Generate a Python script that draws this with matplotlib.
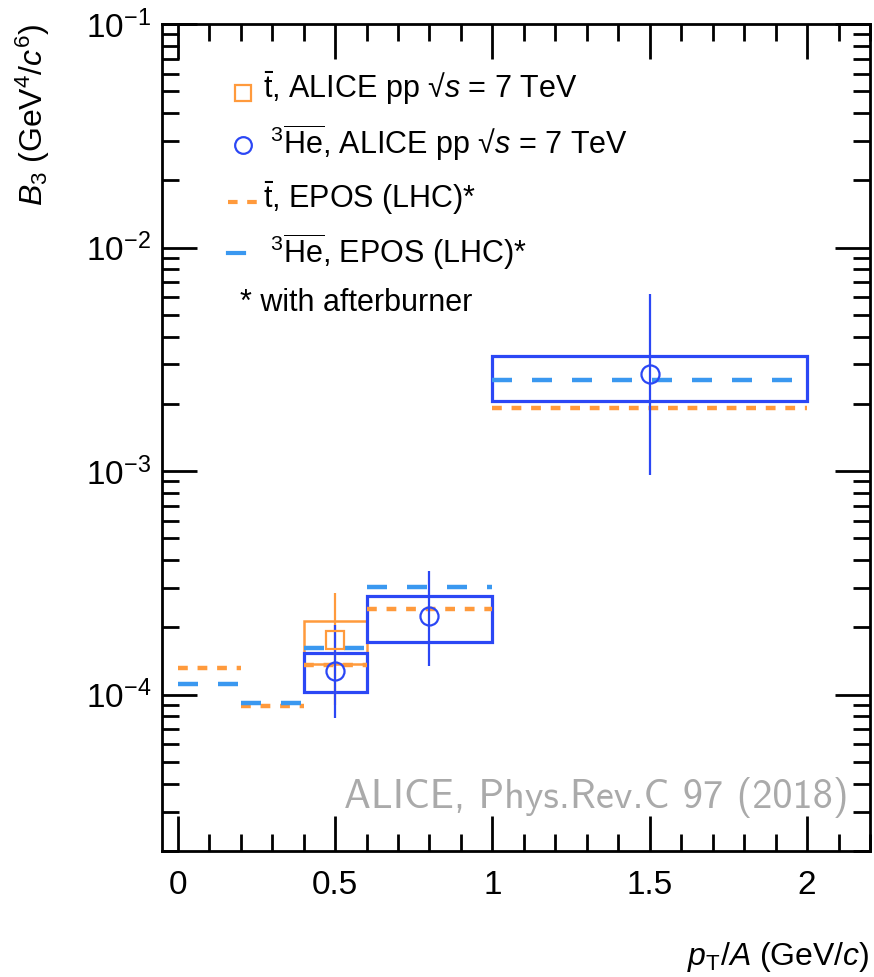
import matplotlib
matplotlib.use("Agg")
import matplotlib.pyplot as plt
from matplotlib.patches import Rectangle
from matplotlib.ticker import MultipleLocator

plt.rcParams['font.family'] = ['Liberation Sans', 'DejaVu Sans']
plt.rcParams['mathtext.fontset'] = 'custom'
plt.rcParams['mathtext.rm'] = 'Liberation Sans'
plt.rcParams['mathtext.it'] = 'Liberation Sans:italic'
plt.rcParams['mathtext.bf'] = 'Liberation Sans:bold'

ORANGE = '#ff9a3c'
BLUE = '#2b47f5'
LBLUE = '#3a98f0'

# anti-triton, ALICE pp 7 TeV
t_x = [0.5]
t_y = [1.76e-4]
t_err_lo = [9.0e-5]
t_err_hi = [2.85e-4]
t_sys_lo = [1.37e-4]
t_sys_hi = [2.14e-4]
t_bin_lo = [0.4]
t_bin_hi = [0.6]

# anti-3He, ALICE pp 7 TeV
he_x = [0.5, 0.8, 1.5]
he_y = [1.28e-4, 2.25e-4, 2.71e-3]
he_err_lo = [7.85e-5, 1.35e-4, 9.6e-4]
he_err_hi = [2.05e-4, 3.58e-4, 6.2e-3]
he_sys_lo = [1.03e-4, 1.72e-4, 2.07e-3]
he_sys_hi = [1.54e-4, 2.77e-4, 3.26e-3]
he_bin_lo = [0.4, 0.6, 1.0]
he_bin_hi = [0.6, 1.0, 2.0]

# EPOS (LHC) with afterburner
epos_lo = [0.0, 0.2, 0.4, 0.6, 1.0]
epos_hi = [0.2, 0.4, 0.6, 1.0, 2.0]
epos_t = [1.32e-4, 8.9e-5, 1.36e-4, 2.42e-4, 1.91e-3]
epos_he = [1.12e-4, 9.2e-5, 1.62e-4, 3.03e-4, 2.55e-3]

fig = plt.figure(figsize=(8.74, 9.77), dpi=100)
ax = fig.add_axes([162 / 874, 1 - 851 / 977, 708 / 874, 827 / 977])

# model curves
ax.hlines(epos_t, epos_lo, epos_hi, colors=ORANGE, linewidth=3.2,
          linestyles=(0, (2.2, 2.2)))
ax.hlines(epos_he, epos_lo, epos_hi, colors=LBLUE, linewidth=3.2,
          linestyles=(0, (4.5, 4.5)))

# triton data
for lo, hi, s_lo, s_hi in zip(t_bin_lo, t_bin_hi, t_sys_lo, t_sys_hi):
    ax.add_patch(Rectangle((lo, s_lo), hi - lo, s_hi - s_lo, fill=False,
                           edgecolor=ORANGE, linewidth=1.8))
ax.errorbar(t_x, t_y,
            yerr=[[y - e for y, e in zip(t_y, t_err_lo)],
                  [e - y for y, e in zip(t_y, t_err_hi)]],
            fmt='s', color=ORANGE, mfc='none', mec=ORANGE, ms=13, mew=1.6,
            elinewidth=1.6, capsize=0)

# 3He data
for lo, hi, s_lo, s_hi in zip(he_bin_lo, he_bin_hi, he_sys_lo, he_sys_hi):
    ax.add_patch(Rectangle((lo, s_lo), hi - lo, s_hi - s_lo, fill=False,
                           edgecolor=BLUE, linewidth=2.3))
ax.errorbar(he_x, he_y,
            yerr=[[y - e for y, e in zip(he_y, he_err_lo)],
                  [e - y for y, e in zip(he_y, he_err_hi)]],
            fmt='o', color=BLUE, mfc='none', mec=BLUE, ms=13, mew=1.6,
            elinewidth=1.6, capsize=0)

ax.set_yscale('log')
ax.set_xlim(-0.05, 2.2)
ax.set_ylim(2e-5, 1e-1)
ax.set_xticks([0, 0.5, 1, 1.5, 2])
ax.set_xticklabels(['0', '0.5', '1', '1.5', '2'])
ax.xaxis.set_minor_locator(MultipleLocator(0.1))
ax.set_yticks([1e-4, 1e-3, 1e-2, 1e-1])
ax.set_yticklabels([r'10$^{-4}$', r'10$^{-3}$', r'10$^{-2}$', r'10$^{-1}$'])
ax.tick_params(which='both', direction='in', top=True, right=True, width=2,
               labelsize=24)
ax.tick_params(which='major', length=25)
ax.tick_params(which='minor', length=12)
ax.tick_params(axis='x', pad=14)
ax.tick_params(axis='y', pad=8)
for sp in ax.spines.values():
    sp.set_linewidth(2)

ax.set_xlabel(r'$p_{\mathrm{T}}$/$A$ (GeV/$c$)', fontsize=23, loc='right',
              labelpad=28)
ax.set_ylabel(r'$B_3$ (GeV$^4$/$c^6$)', fontsize=23, loc='top', labelpad=24)

# legend drawn by hand
def px(x, y):
    return (x - 162) / 708, (851 - y) / 827

ax.plot(*px(243, 93), 's', transform=ax.transAxes, mfc='none', mec=ORANGE,
        ms=12, mew=1.6)
ax.plot(*px(243, 145), 'o', transform=ax.transAxes, mfc='none', mec=BLUE,
        ms=12, mew=1.6)
x0, y0 = px(228, 202)
x1, _ = px(258, 202)
ax.plot([x0, x1], [y0, y0], transform=ax.transAxes, color=ORANGE, lw=3,
        ls=(0, (2.3, 2.3)))
x0, y0 = px(228, 253)
x1, _ = px(244, 253)
ax.plot([x0, x1], [y0, y0], transform=ax.transAxes, color=LBLUE, lw=3)

leg_rows = [
    (263, 88, r'$\bar{\mathrm{t}}$, ALICE pp √$s$ = 7 TeV'),
    (270, 143, r'$^{3}\overline{\mathrm{He}}$, ALICE pp √$s$ = 7 TeV'),
    (263, 198, r'$\bar{\mathrm{t}}$, EPOS (LHC)*'),
    (270, 252, r'$^{3}\overline{\mathrm{He}}$, EPOS (LHC)*'),
    (240, 303, '* with afterburner'),
]
for x, y, s in leg_rows:
    ax.text(*px(x, y), s, transform=ax.transAxes, fontsize=22,
            va='center', ha='left')

ax.text(*px(848, 798), 'ALICE, Phys.Rev.C 97 (2018)',
        transform=ax.transAxes, fontsize=29, color='#aaaaaa', ha='right',
        va='center', family=['cmss10', 'DejaVu Sans'])

fig.savefig('out.png', dpi=100)
